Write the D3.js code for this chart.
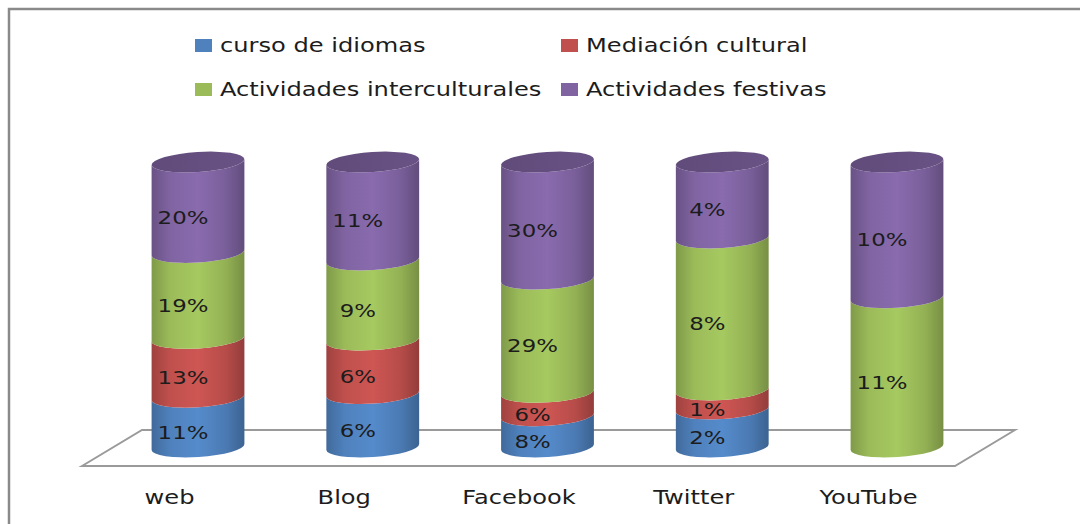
<!DOCTYPE html>
<html>
<head>
<meta charset="utf-8">
<script src="https://cdn.jsdelivr.net/npm/d3@7"></script>
<style>
  body { margin: 0; background: #fff; }
  svg { display: block; font-family: "DejaVu Sans", Verdana, sans-serif; }
</style>
</head>
<body>
<svg id="chart"></svg>
<script>
// chart values (percent labels as shown on the cylinders)
const categories = ['web', 'Blog', 'Facebook', 'Twitter', 'YouTube'];
const seriesNames = ['curso de idiomas', 'Mediación cultural', 'Actividades interculturales', 'Actividades festivas'];
const cursoIdiomas = [11, 6, 8, 2, 0];
const mediacionCultural = [13, 6, 6, 1, 0];
const actInterculturales = [19, 9, 29, 8, 11];
const actFestivas = [20, 11, 30, 4, 10];
const seriesColors = ['#4f81bd', '#c0504d', '#9bbb59', '#8064a2'];

let width = 1080;
let height = 524;
let sx = 1.27; // the picture is stretched sideways, text too
let rx = 46.5, ry = 10, tilt = -3.7; // cylinder ellipse

let svg = d3.select('#chart').attr('width', width).attr('height', height);

// table for the stack
let table = categories.map((c, i) => ({
	cat: c,
	s0: cursoIdiomas[i],
	s1: mediacionCultural[i],
	s2: actInterculturales[i],
	s3: actFestivas[i]
}));
let keys = ['s0', 's1', 's2', 's3'];
let stacked = d3.stack().keys(keys).offset(d3.stackOffsetExpand)(table);

let xScale = d3.scalePoint().domain(categories).range([198, 897]);
let yScale = d3.scaleLinear().domain([0, 1]).range([447, 162]);

// outer frame
svg.append('rect').attr('x', 9).attr('y', 9).attr('width', 1200).attr('height', 700)
	.attr('fill', 'none').attr('stroke', '#8a8a8a').attr('stroke-width', 2.5);

// floor
svg.append('polygon')
	.attr('points', [[82, 466], [142, 430], [1015, 430], [955, 466]].map((p) => p.join(',')).join(' '))
	.attr('fill', 'none').attr('stroke', '#9a9a9a').attr('stroke-width', 2);

// gradients, one per colour
let defs = svg.append('defs');
seriesColors.forEach((col, i) => {
	let c = d3.color(col);
	let g = defs.append('linearGradient').attr('id', 'grad' + i).attr('x1', '0%').attr('x2', '100%');
	g.append('stop').attr('offset', '0%').attr('stop-color', c.darker(0.55));
	g.append('stop').attr('offset', '20%').attr('stop-color', c);
	g.append('stop').attr('offset', '50%').attr('stop-color', c.brighter(0.2));
	g.append('stop').attr('offset', '80%').attr('stop-color', c.darker(0.15));
	g.append('stop').attr('offset', '100%').attr('stop-color', c.darker(0.75));
	let t = defs.append('linearGradient').attr('id', 'top' + i).attr('x1', '0%').attr('x2', '100%');
	t.append('stop').attr('offset', '0%').attr('stop-color', c.darker(0.8));
	t.append('stop').attr('offset', '100%').attr('stop-color', c.darker(0.55));
});

let rad = tilt * Math.PI / 180;
function leftPt(cx, y) { return [cx - rx * Math.cos(rad), y - rx * Math.sin(rad)]; }
function rightPt(cx, y) { return [cx + rx * Math.cos(rad), y + rx * Math.sin(rad)]; }

// front face of one segment between two ellipses
function segPath(cx, yb, yt) {
	let lb = leftPt(cx, yb), rb = rightPt(cx, yb), rt = rightPt(cx, yt), lt = leftPt(cx, yt);
	return `M${lb}A${rx},${ry} ${tilt} 0 0 ${rb}L${rt}A${rx},${ry} ${tilt} 0 1 ${lt}Z`;
}

let cyl = svg.append('g');
stacked.forEach((layer, si) => {
	layer.forEach((d, ci) => {
		if (d[1] - d[0] <= 0) return;
		let cx = xScale(d.data.cat);
		cyl.append('path')
			.attr('d', segPath(cx, yScale(d[0]), yScale(d[1])))
			.attr('fill', `url(#grad${si})`);
	});
});

// top caps
categories.forEach((c, ci) => {
	let si = keys.length - 1;
	while (si > 0 && stacked[si][ci][1] - stacked[si][ci][0] <= 0) si--;
	cyl.append('ellipse')
		.attr('cx', 0).attr('cy', 0).attr('rx', rx).attr('ry', ry)
		.attr('transform', `translate(${xScale(c)},${yScale(1)}) rotate(${tilt})`)
		.attr('fill', `url(#top${si})`);
});

// value labels
stacked.forEach((layer, si) => {
	layer.forEach((d, ci) => {
		let v = d.data[keys[si]];
		if (!v) return;
		let cx = xScale(d.data.cat) - 15;
		let cy = (yScale(d[0]) + yScale(d[1])) / 2 + 10;
		svg.append('text')
			.attr('transform', `translate(${cx},${cy}) scale(${sx},1)`)
			.attr('dy', '0.36em')
			.attr('text-anchor', 'middle')
			.style('font-size', '18px')
			.attr('fill', '#1c1c1c')
			.text(v + '%');
	});
});

// category labels
let xAxis = d3.axisBottom(xScale).tickSize(0).tickPadding(0);
let ax = svg.append('g').attr('transform', 'translate(0,504)').call(xAxis);
ax.select('.domain').remove();
ax.selectAll('text')
	.attr('y', null).attr('dy', null)
	.attr('transform', `translate(-29,0) scale(${sx},1)`)
	.style('font-family', '"DejaVu Sans", Verdana, sans-serif')
	.style('font-size', '19px')
	.attr('fill', '#1c1c1c');

// legend
let legendPos = [[195, 52], [561, 52], [195, 96], [561, 96]];
let legend = svg.append('g');
seriesNames.forEach((name, i) => {
	let p = legendPos[i];
	legend.append('rect').attr('x', p[0]).attr('y', p[1] - 13).attr('width', 17).attr('height', 13)
		.attr('fill', seriesColors[i]);
	legend.append('text')
		.attr('transform', `translate(${p[0] + 25},${p[1]}) scale(${sx},1)`)
		.style('font-size', '19px')
		.attr('fill', '#1c1c1c')
		.text(name);
});
</script>
</body>
</html>
